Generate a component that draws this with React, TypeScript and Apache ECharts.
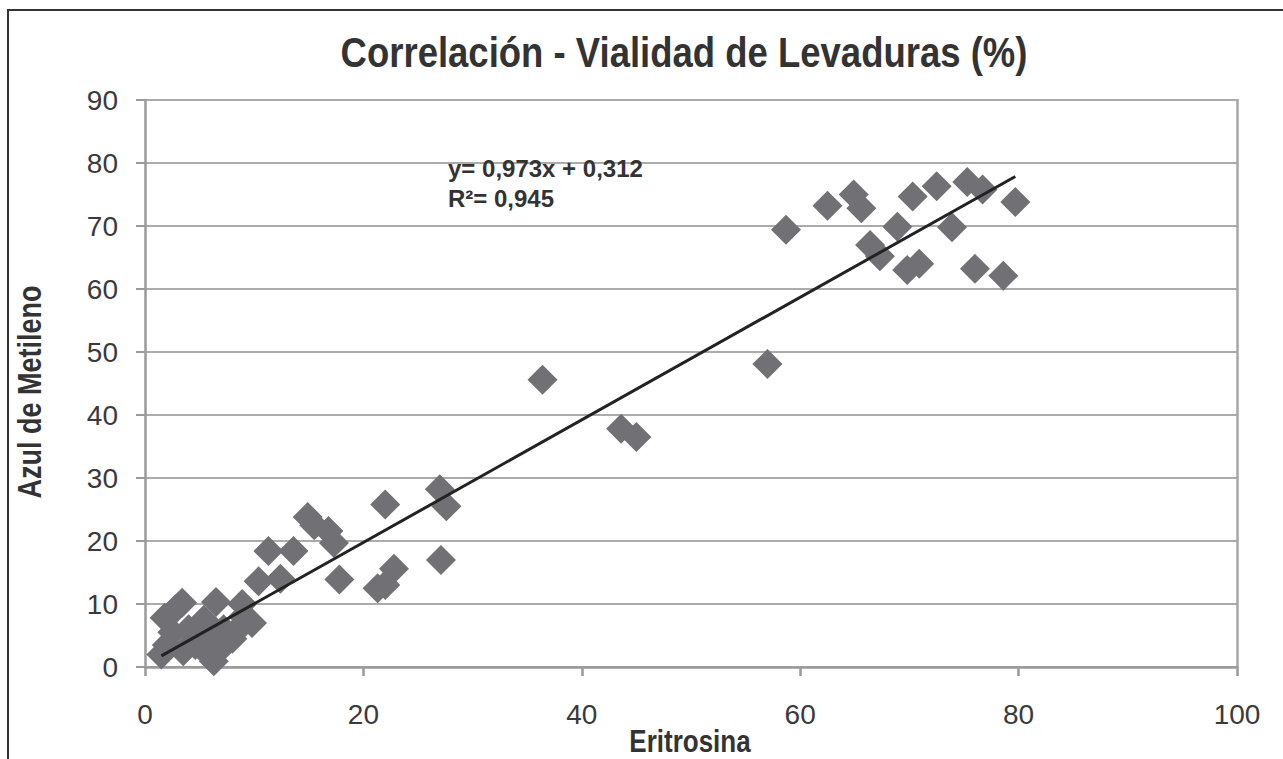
import React, { useEffect, useRef } from "react";
import * as echarts from "echarts";

const eritrosina = [
  1.5, 2.0, 1.8, 2.8, 3.4, 2.5, 3.5, 4.0, 4.6, 5.0, 5.4, 5.8, 6.3, 6.5, 6.2, 7.2, 7.0, 8.0, 8.5, 9.0, 8.9, 9.8,
  10.4, 12.4, 11.3, 13.6, 14.9, 15.5, 16.8, 17.3, 17.8, 21.3, 22.0, 22.8, 22.0, 27.0, 27.6, 27.1,
  36.4, 43.6, 45.0, 57.0, 58.7, 62.5, 64.9, 65.6, 66.4, 67.3, 68.9, 69.8, 70.3, 70.9, 72.5, 73.9,
  75.3, 76.0, 76.7, 78.6, 79.7,
];
const azulMetileno = [
  2.0, 3.5, 7.8, 9.2, 10.2, 5.5, 2.5, 6.0, 3.5, 5.0, 7.5, 2.0, 0.9, 10.3, 4.5, 6.0, 3.0, 4.5, 6.0, 8.0, 10.0, 7.0,
  13.6, 14.0, 18.4, 18.4, 23.8, 22.5, 21.6, 19.7, 13.9, 12.5, 13.0, 15.6, 25.8, 28.2, 25.5, 17.0,
  45.6, 37.8, 36.5, 48.1, 69.4, 73.2, 75.0, 72.8, 67.0, 65.2, 69.9, 63.0, 74.7, 64.0, 76.3, 69.8,
  77.0, 63.2, 75.8, 62.1, 73.8,
];
const slope = 0.973;
const intercept = 0.312;
const equationLines = ["y= 0,973x + 0,312", "R²= 0,945"];
const titleText = "Correlación - Vialidad de Levaduras (%)";
const xName = "Eritrosina";
const yName = "Azul de Metileno";

const BOLD = "'Liberation Sans', Arial, Helvetica, sans-serif";
const REG = "'Liberation Sans', Arial, Helvetica, sans-serif";

export default function App() {
  const ref = useRef<HTMLDivElement>(null);
  useEffect(() => {
    if (!ref.current) return;
    const chart = echarts.init(ref.current, undefined, { renderer: "svg" });
    const pts = eritrosina.map((x, i) => [x, azulMetileno[i]]);
    const xMin = Math.min(...eritrosina);
    const xMax = Math.max(...eritrosina);
    const trend = [
      [xMin, slope * xMin + intercept],
      [xMax, slope * xMax + intercept],
    ];
    chart.setOption({
      animation: false,
      backgroundColor: "#ffffff",
      grid: { left: 145, right: 46, top: 100, bottom: 92, containLabel: false },
      xAxis: {
        type: "value",
        min: 0,
        max: 100,
        interval: 20,
        axisLine: { show: true, lineStyle: { color: "#9a9a9a", width: 2.5 } },
        axisTick: { show: true, length: 9, lineStyle: { color: "#9a9a9a", width: 2.5 } },
        axisLabel: { margin: 33, fontFamily: REG, fontSize: 28, color: "#3a3a3a" },
        splitLine: { show: false },
      },
      yAxis: [
        {
          type: "value",
          min: 0,
          max: 90,
          interval: 10,
          axisLine: { show: true, lineStyle: { color: "#9a9a9a", width: 2.5 } },
          axisTick: { show: true, length: 9, lineStyle: { color: "#9a9a9a", width: 2 } },
          axisLabel: { margin: 27, fontFamily: REG, fontSize: 28, color: "#3a3a3a" },
          splitLine: { show: true, lineStyle: { color: "#ababab", width: 2 } },
        },
        {
          type: "value",
          min: 0,
          max: 90,
          interval: 10,
          position: "right",
          axisLine: { show: true, lineStyle: { color: "#a6a6a6", width: 2.5 } },
          axisTick: { show: false },
          axisLabel: { show: false },
          splitLine: { show: false },
        },
      ],
      graphic: [
        {
          type: "rect",
          shape: { x: 8, y: 10, width: 1300, height: 800 },
          style: { fill: "none", stroke: "#333", lineWidth: 2 },
          silent: true,
          z: 100,
        },
        {
          type: "text",
          x: 684,
          y: 52,
          scaleY: 1.15,
          style: {
            text: titleText,
            font: `bold 36.5px ${BOLD}`,
            fill: "#333",
            textAlign: "center",
            textVerticalAlign: "middle",
          },
        },
        {
          type: "text",
          x: 690,
          y: 741,
          scaleY: 1.2,
          style: {
            text: xName,
            font: `bold 26px ${BOLD}`,
            fill: "#333",
            textAlign: "center",
            textVerticalAlign: "middle",
          },
        },
        {
          type: "text",
          x: 29,
          y: 392,
          rotation: Math.PI / 2,
          scaleY: 1.25,
          style: {
            text: yName,
            font: `bold 27px ${BOLD}`,
            fill: "#333",
            textAlign: "center",
            textVerticalAlign: "middle",
          },
        },
        {
          type: "text",
          x: 448,
          y: 168,
          style: {
            text: equationLines[0],
            font: `bold 24px ${BOLD}`,
            fill: "#333",
            textAlign: "left",
            textVerticalAlign: "middle",
          },
          z: 10,
        },
        {
          type: "text",
          x: 448,
          y: 198,
          style: {
            text: equationLines[1],
            font: `bold 24px ${BOLD}`,
            fill: "#333",
            textAlign: "left",
            textVerticalAlign: "middle",
          },
          z: 10,
        },
      ],
      series: [
        {
          type: "scatter",
          data: pts,
          symbol: "diamond",
          symbolSize: 30,
          itemStyle: { color: "#717175", opacity: 1 },
          z: 2,
        },
        {
          type: "line",
          data: trend,
          symbol: "none",
          lineStyle: { color: "#222", width: 3 },
          z: 3,
          silent: true,
        },
      ],
    });
    return () => chart.dispose();
  }, []);
  return <div ref={ref} style={{ position: "fixed", left: 0, top: 0, width: 1283, height: 759 }} />;
}
